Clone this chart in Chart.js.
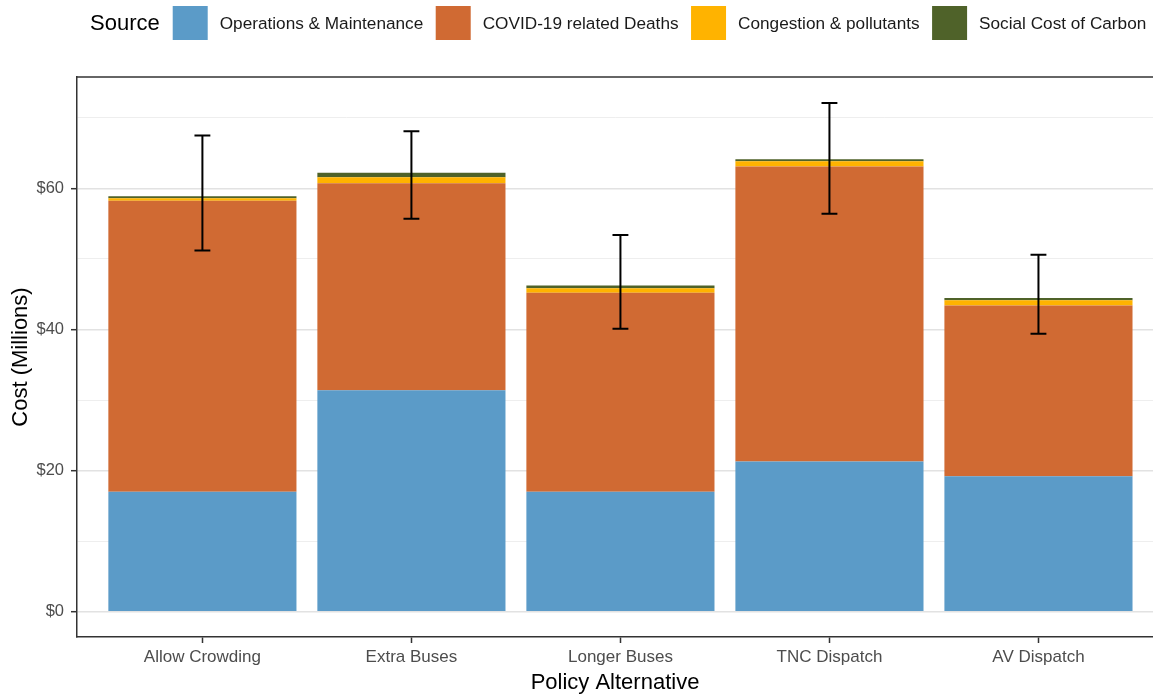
<!DOCTYPE html>
<html>
<head>
<meta charset="utf-8">
<script src="https://cdn.jsdelivr.net/npm/chart.js@4.4.1/dist/chart.umd.min.js"></script>
<style>
  html, body { margin: 0; padding: 0; background: #ffffff; overflow: hidden; }
  #wrap { width: 1153px; height: 694px; position: relative; }
</style>
</head>
<body>
<div id="wrap"><canvas id="chart"></canvas></div>
<script>
// ---- data ----
const categories = ['Allow Crowding', 'Extra Buses', 'Longer Buses', 'TNC Dispatch', 'AV Dispatch'];
const operations = [17.0, 31.4, 17.0, 21.3, 19.2];
const covidDeaths = [41.25, 29.35, 28.2, 41.8, 24.2];
const congestion = [0.37, 0.85, 0.65, 0.75, 0.75];
const carbon = [0.28, 0.62, 0.38, 0.28, 0.33];
const errLow = [51.2, 55.7, 40.1, 56.4, 39.4];
const errHigh = [67.5, 68.1, 53.4, 72.1, 50.6];
const yTickValues = [0, 10, 20, 30, 40, 50, 60, 70];
const seriesNames = ['Operations & Maintenance', 'COVID-19 related Deaths', 'Congestion & pollutants', 'Social Cost of Carbon'];
const legendTitle = 'Source';

// ---- styles ----
const seriesColors = ['#5B9BC8', '#D06A33', '#FFB300', '#4F6229'];
const FONT = '"Liberation Sans", Arial, sans-serif';
Chart.defaults.font.family = FONT;

const seriesValues = [operations, covidDeaths, congestion, carbon];
const datasets = seriesNames.map((name, s) => ({
  label: name,
  data: categories.map((c, i) => ({ x: i, y: seriesValues[s][i] })),
  backgroundColor: seriesColors[s],
  borderWidth: 0,
  stack: 'total',
  categoryPercentage: 0.9,
  barPercentage: 1.0
}));

const errorBarPlugin = {
  id: 'errorBars',
  afterDatasetsDraw(chart) {
    const { ctx, scales: { x, y } } = chart;
    const capHalf = 0.038;
    ctx.save();
    ctx.strokeStyle = '#000000';
    ctx.lineWidth = 2;
    ctx.lineCap = 'butt';
    categories.forEach((c, i) => {
      const px = x.getPixelForValue(i);
      const hw = x.getPixelForValue(i + capHalf) - px;
      const yl = y.getPixelForValue(errLow[i]);
      const yh = y.getPixelForValue(errHigh[i]);
      ctx.beginPath();
      ctx.moveTo(px, yl); ctx.lineTo(px, yh);
      ctx.moveTo(px - hw, yl); ctx.lineTo(px + hw, yl);
      ctx.moveTo(px - hw, yh); ctx.lineTo(px + hw, yh);
      ctx.stroke();
    });
    ctx.restore();
  }
};

const frameAndLegendPlugin = {
  id: 'frameLegend',
  afterDraw(chart) {
    const { ctx, chartArea } = chart;
    ctx.save();
    // top panel border
    ctx.strokeStyle = '#333333';
    ctx.lineWidth = 1.5;
    ctx.beginPath();
    ctx.moveTo(chartArea.left, chartArea.top);
    ctx.lineTo(chartArea.right, chartArea.top);
    ctx.stroke();

    // legend (inline, ggplot style)
    const cy = 23;
    let xPos = 90;
    ctx.textBaseline = 'middle';
    ctx.textAlign = 'left';
    ctx.fillStyle = '#000000';
    ctx.font = '22px ' + FONT;
    ctx.fillText(legendTitle, xPos, cy + 1);
    xPos += ctx.measureText(legendTitle).width + 13;
    ctx.font = '17.2px ' + FONT;
    seriesNames.forEach((name, s) => {
      ctx.fillStyle = seriesColors[s];
      ctx.fillRect(xPos, cy - 17, 35, 34);
      xPos += 35 + 12;
      ctx.fillStyle = '#1a1a1a';
      ctx.fillText(name, xPos, cy + 1);
      xPos += ctx.measureText(name).width + 12.5;
    });
    ctx.restore();
  }
};

new Chart(document.getElementById('chart'), {
  type: 'bar',
  data: { datasets },
  plugins: [errorBarPlugin, frameAndLegendPlugin],
  options: {
    responsive: true,
    maintainAspectRatio: false,
    animation: false,
    layout: { padding: { top: 77, left: 0, right: 0, bottom: 0 } },
    plugins: { legend: { display: false }, tooltip: { enabled: false } },
    scales: {
      x: {
        type: 'linear',
        min: -0.6,
        max: 4.548,
        offset: false,
        afterBuildTicks: (s) => { s.ticks = categories.map((c, i) => ({ value: i })); },
        afterFit: (s) => { s.height = 57; },
        ticks: {
          autoSkip: false,
          maxRotation: 0,
          callback: (v) => categories[v],
          color: '#4D4D4D',
          font: { size: 17 },
          padding: 4
        },
        grid: {
          offset: false,
          drawOnChartArea: false,
          drawTicks: true,
          tickLength: 6,
          tickWidth: 1.5,
          tickColor: '#333333'
        },
        border: { color: '#333333', width: 1.5 },
        title: {
          display: true,
          text: 'Policy Alternative',
          color: '#000000',
          font: { size: 22, lineHeight: 1 },
          padding: { top: 0, bottom: 0 }
        }
      },
      y: {
        type: 'linear',
        stacked: true,
        min: -3.6,
        max: 75.8,
        afterBuildTicks: (s) => { s.ticks = yTickValues.map(v => ({ value: v })); },
        afterFit: (s) => { s.width = 77; },
        ticks: {
          autoSkip: false,
          callback: (v) => (v % 20 === 0 ? '$' + v : ''),
          color: '#4D4D4D',
          font: { size: 16.5 },
          padding: 7
        },
        grid: {
          color: (ctx) => (ctx.tick && ctx.tick.value % 20 === 0 ? '#E2E2E2' : '#EEEEEE'),
          lineWidth: (ctx) => (ctx.tick && ctx.tick.value % 20 === 0 ? 1.4 : 1),
          tickColor: (ctx) => (ctx.tick && ctx.tick.value % 20 === 0 ? '#333333' : 'rgba(0,0,0,0)'),
          tickLength: 6,
          tickWidth: 1.5
        },
        border: { color: '#333333', width: 1.5 },
        title: {
          display: true,
          text: 'Cost (Millions)',
          color: '#000000',
          font: { size: 22 },
          padding: { top: 8, bottom: 0 }
        }
      }
    }
  }
});
</script>
</body>
</html>
